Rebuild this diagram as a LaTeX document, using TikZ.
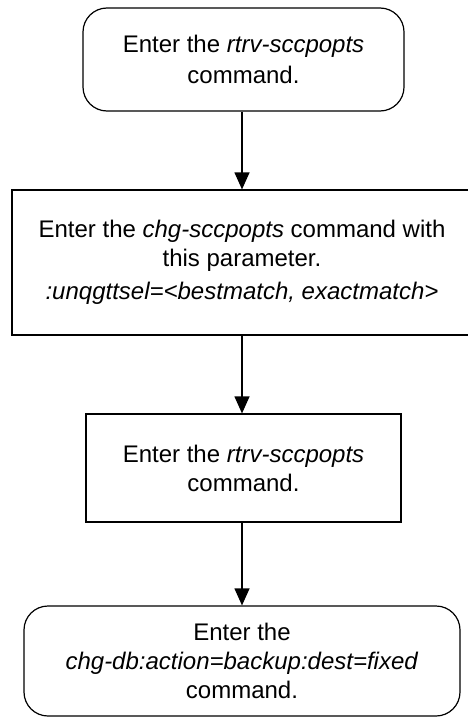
\documentclass[tikz,border=0pt]{standalone}
\usepackage{fontspec}
\setmainfont{Liberation Sans}
\usetikzlibrary{positioning,arrows.meta}

\begin{document}
\begin{tikzpicture}[x=1pt, y=-1pt,
  box/.style={draw, line width=1.2pt, align=center, inner sep=0pt, font=\fontsize{24}{29}\selectfont},
  rbox/.style={box, rounded corners=24pt},
  flow/.style={-{Triangle[length=17pt,width=15pt]}, line width=1.2pt}]
\useasboundingbox (0,0) rectangle (467,717);
%first retrieve
\node[rbox, minimum width=321pt, minimum height=103pt] (rtrvA) at (243.5,59.5) {Enter the \textit{rtrv-sccpopts}\\[2pt]command.};
%change
\node[box, minimum width=460pt, minimum height=145pt] (chg) at (242,262.5) {Enter the \textit{chg-sccpopts} command with\\this parameter.\\[4pt]\textit{:unqgttsel=<bestmatch, exactmatch>}};
%second retrieve
\node[box, minimum width=315pt, minimum height=108pt] (rtrvB) at (243.5,468) {Enter the \textit{rtrv-sccpopts}\\command.};
%backup
\node[rbox, minimum width=436pt, minimum height=110pt] (chgdb) at (242,661) {Enter the\\\textit{chg-db:action=backup:dest=fixed}\\command.};

\draw[flow] (rtrvA.south -| 242,0) -- (chg.north);
\draw[flow] (chg.south) -- (rtrvB.north -| 242,0);
\draw[flow] (rtrvB.south -| 242,0) -- (chgdb.north);
\end{tikzpicture}
\end{document}
